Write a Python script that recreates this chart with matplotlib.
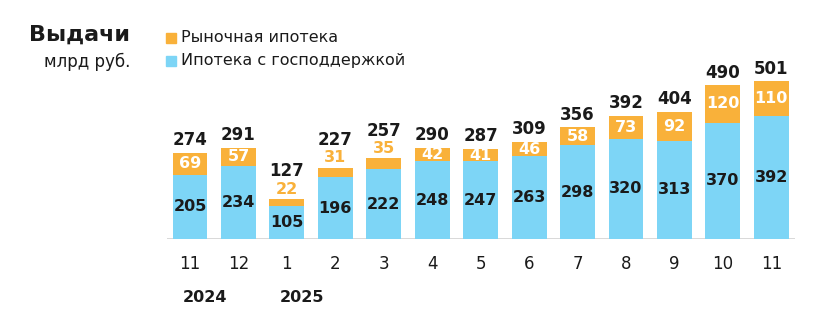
import matplotlib.pyplot as plt
import numpy as np
from matplotlib.patches import Rectangle
from matplotlib.transforms import offset_copy

months = ['11', '12', '1', '2', '3', '4', '5', '6', '7', '8', '9', '10', '11']
years = ['2024', '2025']
year_pos = [0, 2]
gov = [205, 234, 105, 196, 222, 248, 247, 263, 298, 320, 313, 370, 392]
market = [69, 57, 22, 31, 35, 42, 41, 46, 58, 73, 92, 120, 110]
totals = [274, 291, 127, 227, 257, 290, 287, 309, 356, 392, 404, 490, 501]

ORANGE = '#F9B13A'
BLUE = '#7DD5F6'
DARK = '#1a1a1a'

plt.rcParams['font.family'] = ['DejaVu Sans']

W, H = 815, 326
fig = plt.figure(figsize=(W / 100, H / 100), dpi=100)

# axes placed so that baseline sits at y=239px and bars run 167..795px
ax = fig.add_axes([167 / W, (H - 239) / H, 628 / W, 630 * 0.314 / H])
ax.set_xlim(-0.475, 12.49)
ax.set_ylim(0, 630)
ax.axis('off')

x = np.arange(len(months))
ax.bar(x, gov, width=0.72, color=BLUE, zorder=2)
ax.bar(x, market, width=0.72, bottom=gov, color=ORANGE, zorder=2)
ax.axhline(0, color='#d6d6d6', lw=1.3, zorder=1)

for i in range(len(months)):
    top = gov[i] + market[i]
    ax.text(x[i], gov[i] / 2, str(gov[i]), ha='center', va='center',
            fontsize=11.5, fontweight='bold', color=DARK)
    if market[i] < 40:
        tr = offset_copy(ax.transData, fig=fig, x=0, y=7, units='points')
        ax.text(x[i], top, str(market[i]), ha='center', va='center',
                fontsize=11.5, fontweight='bold', color=ORANGE, transform=tr)
        tr2 = offset_copy(ax.transData, fig=fig, x=0, y=20, units='points')
    else:
        ax.text(x[i], gov[i] + market[i] / 2, str(market[i]), ha='center',
                va='center', fontsize=11.5, fontweight='bold', color='white')
        tr2 = offset_copy(ax.transData, fig=fig, x=0, y=9, units='points')
    ax.text(x[i], top, str(totals[i]), ha='center', va='center',
            fontsize=12, fontweight='bold', color=DARK, transform=tr2,
            clip_on=False)
    ax.text(x[i], -80, months[i], ha='center', va='center', fontsize=12,
            color=DARK, clip_on=False)

for yr, p in zip(years, year_pos):
    ax.text(p - 0.15, -185, yr, ha='left', va='center', fontsize=11.5,
            fontweight='bold', color=DARK, clip_on=False)

# title and legend
fig.text(130 / W, 1 - 35 / H, 'Выдачи', ha='right', va='center',
         fontsize=16, fontweight='bold', color=DARK)
fig.text(130 / W, 1 - 62 / H, 'млрд руб.', ha='right', va='center',
         fontsize=12, color=DARK)
fig.patches.append(Rectangle((166 / W, 1 - 43 / H), 10 / W, 10 / H,
                             transform=fig.transFigure, color=ORANGE))
fig.patches.append(Rectangle((166 / W, 1 - 66 / H), 10 / W, 10 / H,
                             transform=fig.transFigure, color=BLUE))
fig.text(181 / W, 1 - 37 / H, 'Рыночная ипотека', ha='left', va='center',
         fontsize=11.5, color=DARK)
fig.text(181 / W, 1 - 61 / H, 'Ипотека с господдержкой', ha='left',
         va='center', fontsize=11.5, color=DARK)

fig.savefig('out.png', dpi=100, facecolor='white')
